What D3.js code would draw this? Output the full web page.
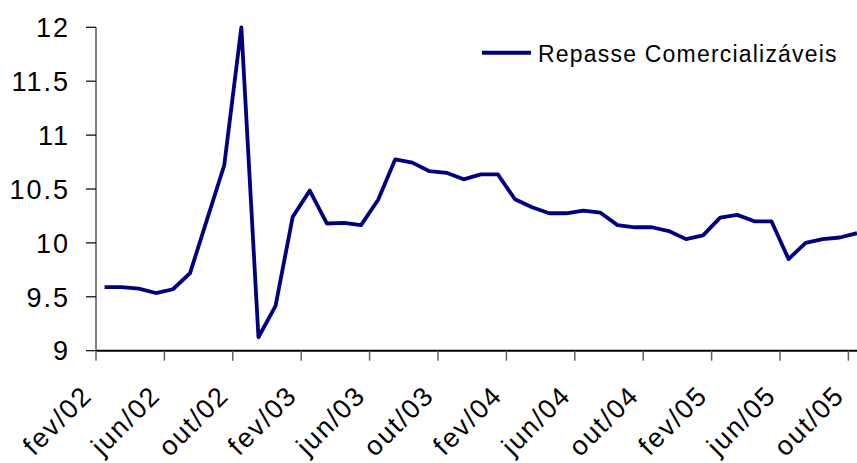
<!DOCTYPE html>
<html>
<head>
<meta charset="utf-8">
<script src="https://cdn.jsdelivr.net/npm/d3@7"></script>
<style>
  body { margin: 0; background: #fff; }
  text { font-family: "Liberation Sans", Arial, sans-serif; fill: #000; }
</style>
</head>
<body>
<svg id="chart" width="857" height="463"></svg>
<script>
// meses (fev/02 .. out/05)
const months = ["fev/02","mar/02","abr/02","mai/02","jun/02","jul/02","ago/02","set/02","out/02","nov/02","dez/02","jan/03",
  "fev/03","mar/03","abr/03","mai/03","jun/03","jul/03","ago/03","set/03","out/03","nov/03","dez/03","jan/04",
  "fev/04","mar/04","abr/04","mai/04","jun/04","jul/04","ago/04","set/04","out/04","nov/04","dez/04","jan/05",
  "fev/05","mar/05","abr/05","mai/05","jun/05","jul/05","ago/05","set/05","out/05"];

// valores
const repasse = [9.59, 9.59, 9.575, 9.535, 9.57, 9.72, 10.22, 10.72, 12.0, 9.125, 9.415, 10.24,
  10.485, 10.18, 10.185, 10.165, 10.40, 10.775, 10.745, 10.665, 10.65, 10.59, 10.635, 10.635,
  10.405, 10.33, 10.275, 10.275, 10.30, 10.28, 10.165, 10.145, 10.145, 10.11, 10.035, 10.07,
  10.235, 10.26, 10.20, 10.20, 9.85, 10.0, 10.035, 10.05, 10.09];

const yTicks = [9, 9.5, 10, 10.5, 11, 11.5, 12];
const tickLabels = ["fev/02","jun/02","out/02","fev/03","jun/03","out/03","fev/04","jun/04","out/04","fev/05","jun/05","out/05"];
const seriesName = "Repasse Comercializáveis";

const svg = d3.select("#chart");
const plotLeft = 96, plotTop = 27.3, plotBottom = 350.7;
const catW = 17.1;

const x = d3.scaleBand().domain(months).range([plotLeft, plotLeft + months.length * catW]).padding(0);
const y = d3.scaleLinear().domain([9, 12]).range([plotBottom, plotTop]);

// eixo y
const yAxis = svg.append("g");
yAxis.append("line")
    .attr("x1", plotLeft).attr("x2", plotLeft)
    .attr("y1", y(12)).attr("y2", y(9))
    .attr("stroke", "#808080").attr("stroke-width", 2);
yAxis.selectAll(".ytick")
    .data(yTicks)
    .enter()
    .append("line")
    .attr("x1", plotLeft - 10).attr("x2", plotLeft)
    .attr("y1", d => y(d)).attr("y2", d => y(d))
    .attr("stroke", "#000").attr("stroke-width", 1.2);
yAxis.selectAll(".ylab")
    .data(yTicks)
    .enter()
    .append("text")
    .attr("x", 70)
    .attr("y", d => y(d) + 9.7)
    .attr("text-anchor", "end")
    .style("font-size", "27px")
    .style("letter-spacing", "2px")
    .text(d => d);

// eixo x
const xAxis = svg.append("g");
xAxis.append("line")
    .attr("x1", plotLeft).attr("x2", 857)
    .attr("y1", plotBottom).attr("y2", plotBottom)
    .attr("stroke", "#000").attr("stroke-width", 2);
xAxis.selectAll(".xtick")
    .data(months.filter((m, i) => i % 4 === 0))
    .enter()
    .append("line")
    .attr("x1", d => x(d)).attr("x2", d => x(d))
    .attr("y1", plotBottom).attr("y2", plotBottom + 10)
    .attr("stroke", "#606060").attr("stroke-width", 1.5);
xAxis.selectAll(".xlab")
    .data(tickLabels)
    .enter()
    .append("text")
    .attr("transform", d => `translate(${x(d) + x.bandwidth() / 2 - 11},397) rotate(-45)`)
    .attr("text-anchor", "end")
    .style("font-size", "27px")
    .style("letter-spacing", "1.8px")
    .text(d => d);

// linha
const line = d3.line()
    .x((d, i) => x(months[i]) + x.bandwidth() / 2)
    .y(d => y(d));

svg.append("path")
    .datum(repasse)
    .attr("d", line)
    .attr("fill", "none")
    .attr("stroke", "#000080")
    .attr("stroke-width", 3.8)
    .attr("stroke-linejoin", "round");

// legenda
const legend = svg.append("g");
legend.append("line")
    .attr("x1", 482).attr("x2", 531)
    .attr("y1", 52.7).attr("y2", 52.7)
    .attr("stroke", "#000080").attr("stroke-width", 4);
legend.append("text")
    .attr("x", 538).attr("y", 61.7)
    .style("font-size", "23px")
    .style("letter-spacing", "1.2px")
    .text(seriesName);
</script>
</body>
</html>
